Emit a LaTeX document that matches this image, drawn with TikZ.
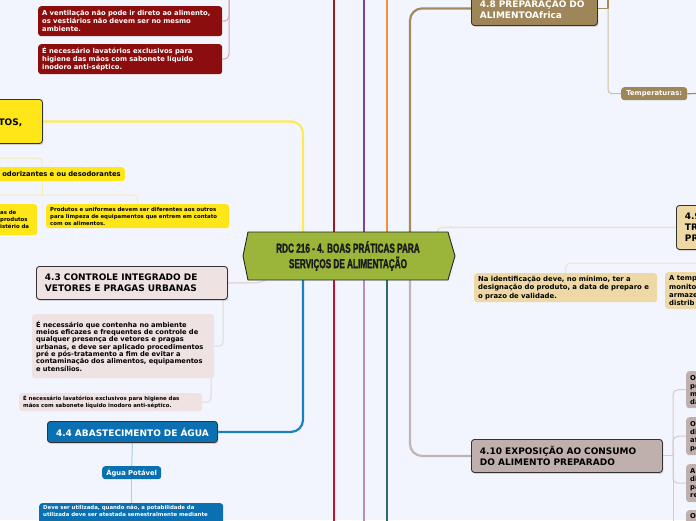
\documentclass[tikz,border=0pt]{standalone}
\usepackage{fontspec}
\setmainfont{DejaVu Sans}
\newfontfamily\titlefont{Liberation Sans Bold}[FakeStretch=0.63, FakeBold=1.5]
\usetikzlibrary{calc,shadows}
\pgfdeclarelayer{back}
\pgfdeclarelayer{front}
\pgfsetlayers{back,main,front}
\definecolor{bgc}{HTML}{F2F5FD}
\definecolor{dred}{HTML}{8C0D0D}
\definecolor{pinkl}{HTML}{D9A3AC}
\definecolor{ybox}{HTML}{FFE619}
\definecolor{ylmain}{HTML}{FFEA55}
\definecolor{ysubc}{HTML}{F5ECB5}
\definecolor{redtop}{HTML}{9B1C1C}
\definecolor{purptop}{HTML}{7A42A6}
\definecolor{orangetop}{HTML}{F39036}
\definecolor{tanl}{HTML}{A38B5E}
\definecolor{tanthin}{HTML}{CDBFA3}
\definecolor{pinkbox}{HTML}{EEE2E2}
\definecolor{pinkthin}{HTML}{E3D8D8}
\definecolor{bluebox}{HTML}{0B70B1}
\definecolor{bluel}{HTML}{1A80C2}
\definecolor{bluethin}{HTML}{A9CFEA}
\definecolor{redbot}{HTML}{C8102E}
\definecolor{lavbot}{HTML}{B88CC2}
\definecolor{tealbot}{HTML}{2C6A64}
\definecolor{taupel}{HTML}{C1B4B4}
\definecolor{taupethin}{HTML}{D5CBCA}
\definecolor{brownbox}{HTML}{9F8658}
\definecolor{beige}{HTML}{EED9A6}
\definecolor{beigel}{HTML}{ECE2CF}
\definecolor{mauve}{HTML}{BFB0AE}
\definecolor{olivec}{HTML}{9BB43A}
\definecolor{titletxt}{HTML}{1B1B1B}
\newcommand\fBody{\fontsize{6.8}{8}\selectfont}
\newcommand\fText{\fontsize{6.7}{7.3}\selectfont}
\newcommand\fTiny{\fontsize{5.4}{7}\selectfont}
\newcommand\fHead{\fontsize{9}{11}\selectfont}
\tikzset{
  base/.style={anchor=north west, rounded corners=3pt, inner xsep=4pt, inner ysep=0pt, align=left, font=\bfseries\fBody},
  shad/.style={drop shadow={shadow xshift=1pt, shadow yshift=-1.5pt, opacity=0.3}},
  head/.style={base, draw=black!80, line width=0.9pt, font=\bfseries\fHead, inner xsep=8.5pt, shad},
  mainline/.style={line width=2.2pt},
  subline/.style={line width=1pt}
}
\begin{document}
\begin{tikzpicture}[x=1pt,y=-1pt]
\useasboundingbox (0,0) rectangle (696,520);
\begin{pgfonlayer}{back}
\fill[bgc] (0,0) rectangle (696,520);
\end{pgfonlayer}

\begin{pgfonlayer}{front}
% central topic
\coordinate (cc) at (349,256);
\filldraw[fill=olivec, draw=black!85, line width=0.9pt]
  ($(cc)+(-101,-24)$) -- ($(cc)+(99,-24)$) -- ($(cc)+(106,0)$) -- ($(cc)+(99,24)$)
  -- ($(cc)+(-101,24)$) -- ($(cc)+(-106,0)$) -- cycle;
\node[font=\titlefont\fontsize{13}{15.5}\selectfont, text=titletxt, align=center,
      minimum width=200pt, minimum height=48pt, inner sep=0pt] (center) at (348,256)
  {RDC 216 - 4. BOAS PRÁTICAS PARA\\SERVIÇOS DE ALIMENTAÇÃO};

% dark red boxes
\node[base, fill=dred, text=white, text width=176pt, minimum height=30pt] (ra) at (38,6)
  {A ventilação não pode ir direto ao alimento,\\os vestiários não devem ser no mesmo\\ambiente.};
\node[base, fill=dred, text=white, text width=176pt, minimum height=30pt] (rb) at (38,44)
  {É necessário lavatórios exclusivos para\\higiene das mãos com sabonete líquido\\inodoro anti-séptico.};

% yellow
\node[base, fill=ybox, draw=black!80, line width=0.9pt, shad, minimum width=62pt, minimum height=44pt] (ybig) at (-20,99) {};
\node[font=\bfseries\fHead, anchor=base east, inner sep=0pt] (ytos) at (22.5,125.3) {TOS,};
\node[base, anchor=north east, fill=ybox, align=right, text width=150pt, minimum height=14pt] (yodor) at (125,167)
  {odorizantes e ou desodorantes};
\node[base, fill=ybox, font=\bfseries\fTiny, text width=33pt, minimum height=31pt] (ypart) at (-4,204)
  {as de\\produtos\\istério da};
\node[base, fill=ybox, font=\bfseries\fTiny, text width=175pt, minimum height=24pt] (yprod) at (46,204)
  {Produtos e uniformes devem ser diferentes aos outros\\para limpeza de equipamentos que entrem em contato\\com os alimentos.};

% 4.3
\node[head, fill=pinkbox, text width=174pt, minimum height=33pt] (b43) at (36,266)
  {4.3 CONTROLE INTEGRADO DE\\VETORES E PRAGAS URBANAS};
\node[base, fill=pinkbox, font=\bfseries\fText, text width=174pt, minimum height=64pt] (b43a) at (32,314)
  {É necessário que contenha no ambiente\\meios eficazes e frequentes de controle de\\qualquer presença de vetores e pragas\\urbanas, e deve ser aplicado procedimentos\\pré e pós-tratamento a fim de evitar a\\contaminação dos alimentos, equipamentos\\e utensílios.};
\node[base, fill=pinkbox, font=\bfseries\fTiny, text width=175pt, minimum height=18pt] (b43b) at (19,393)
  {É necessário lavatórios exclusivos para higiene das\\mãos com sabonete líquido inodoro anti-séptico.};

% 4.4
\node[head, fill=bluebox, text=white, align=center, text width=153pt, minimum height=21pt] (b44) at (47,421)
  {4.4 ABASTECIMENTO DE ÁGUA};
\node[base, fill=bluebox, text=white, align=center, text width=51pt, minimum height=13pt] (agua) at (102,466)
  {Água Potável};
\node[base, fill=bluebox, text=white, font=\bfseries\fTiny, text width=176pt, inner ysep=2.5pt, text depth=14pt] (deve) at (39,503)
  {Deve ser utilizada, quando não, a potabilidade da\\utilizada deve ser atestada semestralmente mediante};

% 4.8
\node[head, fill=brownbox, text=white, text width=109pt, minimum height=34pt] (b48) at (471,-9)
  {4.8 PREPARAÇÃO DO\\ALIMENTOAfrica};
\node[base, fill=brownbox, text=white, align=center, text width=58pt, minimum height=13pt] (temp) at (621,87)
  {Temperaturas:};

% 4.9
\node[head, fill=beige, text width=40pt, minimum height=44pt] (b49) at (676,205)
  {4.9\\TR\\PR};
\node[base, fill=beige, font=\bfseries\fontsize{6.9}{8.5}\selectfont, text width=175pt, minimum height=29pt] (ident) at (474,273)
  {Na identificação deve, no mínimo, ter a\\designação do produto, a data de preparo e\\o prazo de validade.};
\node[base, fill=beige, font=\bfseries\fontsize{6.9}{8.3}\selectfont, text width=40pt, minimum height=37pt] (atemp) at (665,272)
  {A temp\\monito\\armaze\\distrib};

% 4.10
\node[head, fill=mauve, text width=174pt, minimum height=33pt] (b410) at (471,439)
  {4.10 EXPOSIÇÃO AO CONSUMO\\DO ALIMENTO PREPARADO};
\node[base, fill=mauve, font=\bfseries\fontsize{6.8}{8}\selectfont, text width=30pt, minimum height=37pt] (m1) at (686,371) {O\\pr\\m\\da};
\node[base, fill=mauve, font=\bfseries\fontsize{6.8}{8}\selectfont, text width=30pt, minimum height=38pt] (m2) at (686,417) {O\\di\\af\\pe};
\node[base, fill=mauve, font=\bfseries\fontsize{6.8}{8}\selectfont, text width=30pt, minimum height=38pt] (m3) at (686,464) {A\\di\\pa\\re};
\node[base, fill=mauve, font=\bfseries\fontsize{6.8}{8}\selectfont, text width=30pt, inner ysep=3.2pt, text depth=26pt] (m4) at (686,510) {O};
\end{pgfonlayer}

% coordinates for branch columns and free ends
\coordinate (xY) at (303,0);
\coordinate (xR) at (334,-3);
\coordinate (xP) at (364,-3);
\coordinate (xO) at (387,-3);
\coordinate (xT) at (410,0);
\coordinate (xRb) at (334,525);
\coordinate (xPb) at (364,525);
\coordinate (xOb) at (387,525);
\coordinate (pinktop) at (229,-5);
\coordinate (xYs) at (42,0);
\coordinate (yL1) at (-5,158);
\coordinate (yL2) at (-5,195);
\coordinate (x43a) at (223,0);
\coordinate (x43b) at (211,0);
\coordinate (xTr) at (608,-3);
\coordinate (tempR) at (700,93.5);
\coordinate (xC49) at (437,0);
\coordinate (y49R) at (700,263);
\coordinate (x410) at (673,0);
\coordinate (x410b) at (673,525);

% top-left pink
\draw[pinkl, subline, rounded corners=5pt] (pinktop) |- (ra.east);
\draw[pinkl, subline, rounded corners=5pt] (pinktop) |- (rb.east);

% yellow branch
\draw[ylmain, mainline, rounded corners=12pt] (ybig.east) -| (xY |- center.north);
\draw[ysubc, subline, rounded corners=4pt] (yL1) -| (xYs |- yodor.north);
\draw[ysubc, subline] (xYs |- yodor.south) -- (xYs |- yL2);
\draw[ysubc, subline, rounded corners=4pt] (yL2) -| (yprod.north);

% top straight branches
\draw[redtop, mainline] (xR) -- (xR |- center.north);
\draw[purptop, mainline] (xP) -- (xP |- center.north);
\draw[orangetop, mainline] (xO) -- (xO |- center.north);
\draw[tanl, mainline, rounded corners=12pt] (xT |- center.north) |- (b48.west);

% 4.8 children
\draw[tanl, line width=1.2pt] (b48.east) -- (xTr |- b48.east) -- (xTr);
\draw[tanthin, subline, rounded corners=4pt] (xTr |- b48.east) |- (temp.west);
\draw[tanl, line width=1.2pt] (temp.east) -- (tempR);

% 4.9
\draw[beigel, line width=1.5pt, rounded corners=5pt] (xC49 |- center.north) |- (b49.west);
\draw[beigel, subline, rounded corners=5pt] (y49R) -| (ident.north);

% 4.3
\draw[pinkthin, line width=1.5pt] (b43.east) -- ($(b43.east)+(25,0)$) to[out=0,in=200] ($(center.south west)+(18,0)$);
\draw[pinkthin, subline, rounded corners=4pt] (x43a |- b43.south) |- (b43a.east);
\draw[pinkthin, subline, rounded corners=4pt] (x43b |- b43a.south) |- (b43b.east);

% bottom branches
\draw[bluel, mainline, rounded corners=12pt] (xY |- center.south) |- (b44.east);
\draw[bluethin, subline] (b44.south) -- (agua.north);
\draw[bluethin, subline] (agua.south) -- (agua.south |- deve.north);
\draw[redbot, mainline] (xR |- center.south) -- (xRb);
\draw[lavbot, mainline] (xP |- center.south) -- (xPb);
\draw[tealbot, mainline] (xO |- center.south) -- (xOb);
\draw[taupel, mainline, rounded corners=12pt] (xT |- center.south) |- (b410.west);

% 4.10 children
\draw[taupethin, subline] (b410.east) -- (x410 |- b410.east);
\draw[taupethin, subline, rounded corners=5pt] (x410 |- b410.east) |- (m1.west);
\draw[taupethin, subline, rounded corners=5pt] (x410 |- b410.east) |- (m2.west);
\draw[taupethin, subline, rounded corners=5pt] (x410 |- b410.east) |- (m3.west);
\draw[taupethin, subline] (x410 |- b410.east) -- (x410b);
\end{tikzpicture}
\end{document}
